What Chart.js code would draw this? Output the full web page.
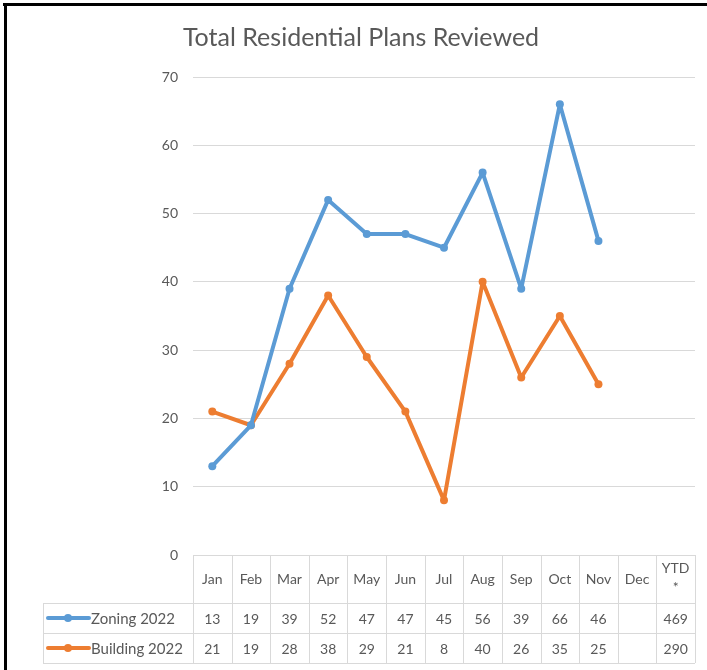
<!DOCTYPE html>
<html>
<head>
<meta charset="utf-8">
<script src="https://cdn.jsdelivr.net/npm/chart.js@4.4.0/dist/chart.umd.min.js"></script>
<style>
  html, body { margin: 0; padding: 0; background: #fff; }
  #wrap { width: 707px; height: 670px; position: relative; }
</style>
</head>
<body>
<div id="wrap"><canvas id="c" width="707" height="670"></canvas></div>
<script>
// Monthly plan review counts, 2022
const months = ['Jan', 'Feb', 'Mar', 'Apr', 'May', 'Jun', 'Jul', 'Aug', 'Sep', 'Oct', 'Nov', 'Dec', 'YTD *'];
const zoning2022 = [13, 19, 39, 52, 47, 47, 45, 56, 39, 66, 46, null, null];
const building2022 = [21, 19, 28, 38, 29, 21, 8, 40, 26, 35, 25, null, null];
const seriesNames = ['Zoning 2022', 'Building 2022'];
const yTicks = [0, 10, 20, 30, 40, 50, 60, 70];
const chartTitle = 'Total Residential Plans Reviewed';

const BLUE = '#5B9BD5';
const ORANGE = '#ED7D31';
const TEXT = '#595959';
const GRID = '#D9D9D9';
const FONT = 'Lato, "Open Sans", sans-serif';

const ytdTotal = arr => arr.reduce((s, v) => s + (v == null ? 0 : v), 0);

// Title, frame and the data table under the plot
const tablePlugin = {
  id: 'dataTable',
  afterDraw(chart) {
    const ctx = chart.ctx;
    const x = chart.scales.x;
    const area = chart.chartArea;
    const colW = (area.right - area.left) / months.length;
    const headTop = area.bottom;
    const headBottom = headTop + 48;
    const rowH = 30;
    const legendLeft = 43;

    ctx.save();
    // title
    ctx.fillStyle = TEXT;
    ctx.font = '25px ' + FONT;
    ctx.textAlign = 'center';
    ctx.textBaseline = 'middle';
    ctx.fillText(chartTitle, 361, 38);

    // grid lines of the table
    ctx.strokeStyle = GRID;
    ctx.lineWidth = 1;
    ctx.beginPath();
    for (let i = 0; i <= months.length; i++) {
      const px = Math.round(area.left + i * colW) + 0.5;
      ctx.moveTo(px, headTop);
      ctx.lineTo(px, headBottom + 2 * rowH);
    }
    ctx.moveTo(legendLeft + 0.5, headBottom);
    ctx.lineTo(legendLeft + 0.5, headBottom + 2 * rowH);
    for (let r = 0; r <= 2; r++) {
      const py = Math.round(headBottom + r * rowH) + 0.5;
      ctx.moveTo(legendLeft, py);
      ctx.lineTo(area.right, py);
    }
    ctx.stroke();

    // header labels
    ctx.fillStyle = TEXT;
    ctx.font = '14px ' + FONT;
    ctx.textAlign = 'center';
    ctx.textBaseline = 'middle';
    months.forEach((m, i) => {
      const cx = x.getPixelForValue(i);
      const parts = m.split(' ');
      if (parts.length > 1) {
        ctx.fillText(parts[0], cx, headTop + 13);
        ctx.fillText(parts[1], cx, headTop + 32);
      } else {
        ctx.fillText(m, cx, (headTop + headBottom) / 2);
      }
    });

    // rows
    const rows = [
      { name: seriesNames[0], data: zoning2022, color: BLUE },
      { name: seriesNames[1], data: building2022, color: ORANGE }
    ];
    rows.forEach((row, r) => {
      const cy = headBottom + r * rowH + rowH / 2;
      // legend key
      ctx.strokeStyle = row.color;
      ctx.lineWidth = 4;
      ctx.lineCap = 'round';
      ctx.beginPath();
      ctx.moveTo(48, cy);
      ctx.lineTo(89, cy);
      ctx.stroke();
      ctx.fillStyle = row.color;
      ctx.beginPath();
      ctx.arc(68, cy, 4, 0, Math.PI * 2);
      ctx.fill();
      ctx.fillStyle = TEXT;
      ctx.font = '15px ' + FONT;
      ctx.textAlign = 'left';
      ctx.fillText(row.name, 91, cy + 1);
      // values
      ctx.font = '14px ' + FONT;
      ctx.textAlign = 'center';
      months.forEach((m, i) => {
        let v = row.data[i];
        if (i === months.length - 1) v = ytdTotal(row.data);
        if (v != null) ctx.fillText(String(v), x.getPixelForValue(i), cy + 1);
      });
    });

    // frame
    ctx.fillStyle = '#000';
    ctx.fillRect(3, 3, 704, 3);
    ctx.fillRect(4, 3, 3, 667);
    ctx.restore();
  }
};

new Chart(document.getElementById('c'), {
  type: 'line',
  data: {
    labels: months,
    datasets: [
      {
        label: seriesNames[0], data: zoning2022,
        borderColor: BLUE, backgroundColor: BLUE,
        borderWidth: 4, pointRadius: 4, pointBorderWidth: 0,
        pointBackgroundColor: BLUE, tension: 0, spanGaps: false,
        borderJoinStyle: 'round', borderCapStyle: 'round'
      },
      {
        label: seriesNames[1], data: building2022,
        borderColor: ORANGE, backgroundColor: ORANGE,
        borderWidth: 4, pointRadius: 4, pointBorderWidth: 0,
        pointBackgroundColor: ORANGE, tension: 0, spanGaps: false,
        borderJoinStyle: 'round', borderCapStyle: 'round'
      }
    ]
  },
  options: {
    responsive: false,
    animation: false,
    devicePixelRatio: 1,
    layout: { padding: { top: 77, right: 12, bottom: 115, left: 0 } },
    plugins: {
      legend: { display: false },
      title: { display: false },
      tooltip: { enabled: false }
    },
    scales: {
      x: { display: false, offset: true },
      y: {
        min: 0, max: 70,
        afterFit: s => { s.width = 193; },
        afterBuildTicks: s => { s.ticks = yTicks.map(v => ({ value: v })); },
        border: { display: false },
        grid: { color: GRID, drawTicks: false, lineWidth: 1 },
        ticks: { color: TEXT, padding: 15, font: { family: FONT, size: 14 } }
      }
    }
  },
  plugins: [tablePlugin]
});
</script>
</body>
</html>
